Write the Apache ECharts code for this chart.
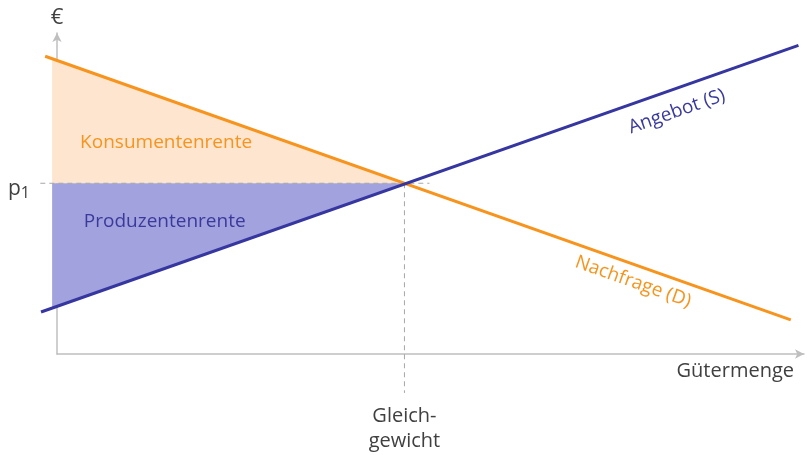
<!DOCTYPE html>
<html>
<head>
<meta charset="utf-8">
<script src="https://cdn.jsdelivr.net/npm/echarts@6/dist/echarts.min.js"></script>
<style>
html, body { margin: 0; padding: 0; background: #fff; }
#chart { width: 807px; height: 455px; }
</style>
</head>
<body>
<div id="chart"></div>
<script>
var myChart = echarts.init(document.getElementById('chart'));

// Daten (Menge, Preis)
var demand = [[-1.7, 87.2], [105.6, 10.0]];
var supply = [[-2.3, 12.3], [106.7, 90.4]];
var consumerSurplus = [[-0.7, 86.5], [50, 50], [-0.7, 50]];
var producerSurplus = [[-0.7, 50], [50, 50], [-0.7, 13.7]];
var priceLine = [[-2.4, 50], [53.6, 50]];
var quantityLine = [[50, 50], [50, -11.4]];
var labels = [
	{ text: 'Konsumentenrente', pos: [15.7, 61.8], rot: 0, color: '#f7941d' },
	{ text: 'Produzentenrente', pos: [15.5, 38.9], rot: 0, color: '#3a3a9c' },
	{ text: 'Angebot (S)', pos: [89.2, 71.0], rot: 0.34, color: '#3a3a9c' },
	{ text: 'Nachfrage (D)', pos: [82.9, 21.1], rot: -0.34, color: '#f7941d' }
];

var orange = '#f7941d';
var blue = '#3636a0';
var font = '"Open Sans", sans-serif';

// Fläche als Polygon über die Achsen
function polygon(points, color) {
	return {
		type: 'custom',
		clip: false,
		silent: true,
		data: [0],
		renderItem: function (params, api) {
			return {
				type: 'polygon',
				shape: { points: points.map(function (p) { return api.coord(p); }) },
				style: { fill: color }
			};
		}
	};
}

// Linie, auch links der y-Achse
function line(points, style) {
	return {
		type: 'custom',
		clip: false,
		silent: true,
		data: [0],
		renderItem: function (params, api) {
			return {
				type: 'polyline',
				shape: { points: points.map(function (p) { return api.coord(p); }) },
				style: style
			};
		}
	};
}

myChart.setOption({
	animation: false,
	grid: { left: 57, right: 2, top: 33, bottom: 101 },
	xAxis: {
		type: 'value',
		min: 0,
		max: 107.5,
		interval: 50,
		splitLine: { show: false },
		axisTick: { show: false },
		axisLine: { lineStyle: { color: '#bfbfbf', width: 1.5 }, symbol: ['none', 'arrow'], symbolSize: [7, 9] },
		axisLabel: {
			margin: 50,
			color: '#404040',
			fontSize: 20,
			fontFamily: font,
			lineHeight: 25,
			formatter: function (v) { return v === 50 ? 'Gleich-\ngewicht' : ''; }
		},
		name: 'Gütermenge',
		nameLocation: 'end',
		nameGap: -10,
		nameTextStyle: { color: '#404040', fontSize: 20, fontFamily: font, align: 'right', verticalAlign: 'top', padding: [7, 0, 0, 0] }
	},
	yAxis: {
		type: 'value',
		min: 0,
		max: 94,
		interval: 50,
		splitLine: { show: false },
		axisTick: { show: false },
		axisLine: { lineStyle: { color: '#bfbfbf', width: 1.5 }, symbol: ['none', 'arrow'], symbolSize: [7, 9] },
		axisLabel: {
			margin: 27,
			showMaxLabel: false,
			formatter: function (v) { return v === 50 ? '{p|p}{s|1}' : ''; },
			rich: {
				p: { color: '#404040', fontSize: 21, fontFamily: font, padding: [12, 0, 0, 0] },
				s: { color: '#404040', fontSize: 16, fontFamily: font, padding: [20, 0, 0, 0] }
			}
		},
		name: '€',
		nameGap: 4,
		nameTextStyle: { color: '#404040', fontSize: 22, fontFamily: font }
	},
	series: [
		polygon(consumerSurplus, '#fde5cf'),
		polygon(producerSurplus, '#a2a2de'),
		line(priceLine, { stroke: '#a6a6a6', lineWidth: 1, lineDash: [5, 4], fill: null }),
		line(quantityLine, { stroke: '#a6a6a6', lineWidth: 1, lineDash: [5, 4], fill: null }),
		line(demand, { stroke: orange, lineWidth: 3, fill: null }),
		line(supply, { stroke: blue, lineWidth: 3, fill: null }),
		{
			type: 'custom',
			clip: false,
			silent: true,
			data: labels.map(function (l, i) { return i; }),
			renderItem: function (params, api) {
				var l = labels[params.dataIndex];
				var p = api.coord(l.pos);
				return {
					type: 'text',
					x: p[0], y: p[1], rotation: l.rot,
					style: { text: l.text, fill: l.color, font: '19px ' + font, align: 'center', verticalAlign: 'middle' }
				};
			}
		}
	]
});
</script>
</body>
</html>
